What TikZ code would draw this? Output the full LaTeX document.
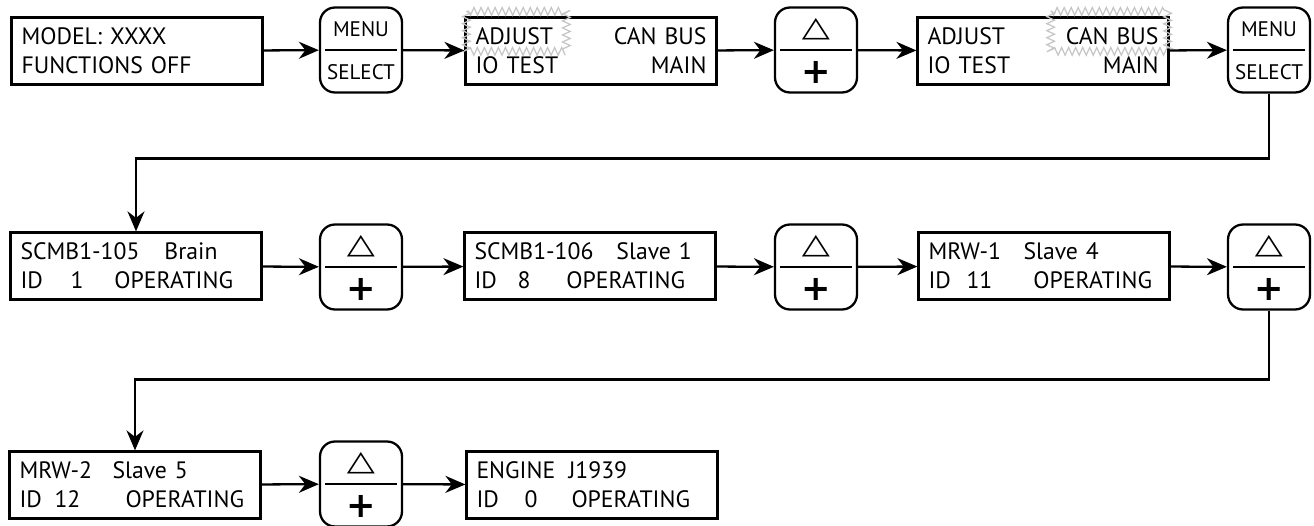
\documentclass[tikz,border=0pt]{standalone}
\usepackage{fontspec}
\setmainfont{PT Sans}
\newfontfamily\symfont{DejaVu Sans}
\usetikzlibrary{arrows.meta,decorations.pathmorphing}

\newcommand{\idrow}[3]{\makebox[#1cm][l]{ID}\makebox[\dimexpr#2cm-#1cm\relax][l]{#3}OPERATING}
\newcommand{\up}{\symfont\fontsize{16}{16}\selectfont\scalebox{1.3}[1]{△}}
\newcommand{\plus}{\symfont\bfseries\fontsize{20}{20}\selectfont +}

\tikzset{
  disp/.style={draw,line width=1.3pt,minimum width=5.02cm,minimum height=1.34cm,
    text width=4.62cm,inner sep=0.2cm,align=left,font=\fontsize{13.5}{16.5}\selectfont},
  key/.style={draw,line width=1.3pt,rounded corners=0.3cm,minimum width=1.64cm,minimum height=1.7cm},
  keytxt/.style={font=\fontsize{12}{12}\selectfont,inner sep=0pt},
  arr/.style={line width=1.3pt,-{Stealth[length=4mm,width=3.4mm,inset=1.3mm]}},
  blink/.style={gray!45,line width=0.7pt,decorate,decoration={zigzag,segment length=4pt,amplitude=2.2pt}}
}

\begin{document}
\begin{tikzpicture}[x=0.02cm,y=-0.02cm]
  \useasboundingbox (0,0) rectangle (1314,526);

  % displays
  \node[disp] (d1) at (137,51) {MODEL: XXXX\\FUNCTIONS OFF};
  \node[disp] (d2) at (591,51) {ADJUST\hfill CAN BUS\\IO TEST\hfill MAIN};
  \node[disp] (d3) at (1043,51) {ADJUST\hfill CAN BUS\\IO TEST\hfill MAIN};
  \node[disp] (d4) at (136,266) {\makebox[2.88cm][l]{SCMB1-105}Brain\\\idrow{1.0}{1.88}{1}};
  \node[disp] (d5) at (590,266) {\makebox[2.84cm][l]{SCMB1-106}Slave 1\\\idrow{0.86}{1.84}{8}};
  \node[disp] (d6) at (1044,266) {\makebox[1.9cm][l]{MRW-1}Slave 4\\\idrow{0.76}{2.1}{11}};
  \node[disp] (d7) at (135,485) {\makebox[1.86cm][l]{MRW-2}Slave 5\\\idrow{0.7}{2.12}{12}};
  \node[disp] (d8) at (592,485) {\makebox[1.84cm][l]{ENGINE}J1939\\\idrow{0.96}{1.9}{0}};

  % blinking items
  \draw[blink] ([shift={(0.04cm,0.1cm)}]d2.north west) rectangle ++(2.0cm,-0.8cm);
  \draw[blink] ([shift={(-2.38cm,0.1cm)}]d3.north east) rectangle ++(2.34cm,-0.8cm);

  % keys
  \foreach \n/\p/\t/\b in {m1/{361,50}/MENU/SELECT, m2/{1269,50}/MENU/SELECT,
      k1/{816,50}/\up/\plus, k2/{361,267}/\up/\plus, k3/{816,267}/\up/\plus,
      k4/{1269,267}/\up/\plus, k5/{361,484}/\up/\plus} {
    \node[key] (\n) at (\p) {};
    \draw[line width=1.3pt] ([xshift=0.12cm]\n.west) -- ([xshift=-0.12cm]\n.east);
    \node[keytxt] (\n t) at ([yshift=0.42cm]\n.center) {\t};
    \node[keytxt] (\n b) at ([yshift=-0.44cm]\n.center) {\b};
  }

  % flow
  \draw[arr] (d1) -- (m1);
  \draw[arr] (m1) -- (d2);
  \draw[arr] (d2) -- (k1);
  \draw[arr] (k1) -- (d3);
  \draw[arr] (d3) -- (m2);
  \draw[arr] (m2.south) -- ++(0,65) -| (d4.north);
  \draw[arr] (d4) -- (k2);
  \draw[arr] (k2) -- (d5);
  \draw[arr] (d5) -- (k3);
  \draw[arr] (k3) -- (d6);
  \draw[arr] (d6) -- (k4);
  \draw[arr] (k4.south) -- ++(0,69) -| (d7.north);
  \draw[arr] (d7) -- (k5);
  \draw[arr] (k5) -- (d8);
\end{tikzpicture}
\end{document}
